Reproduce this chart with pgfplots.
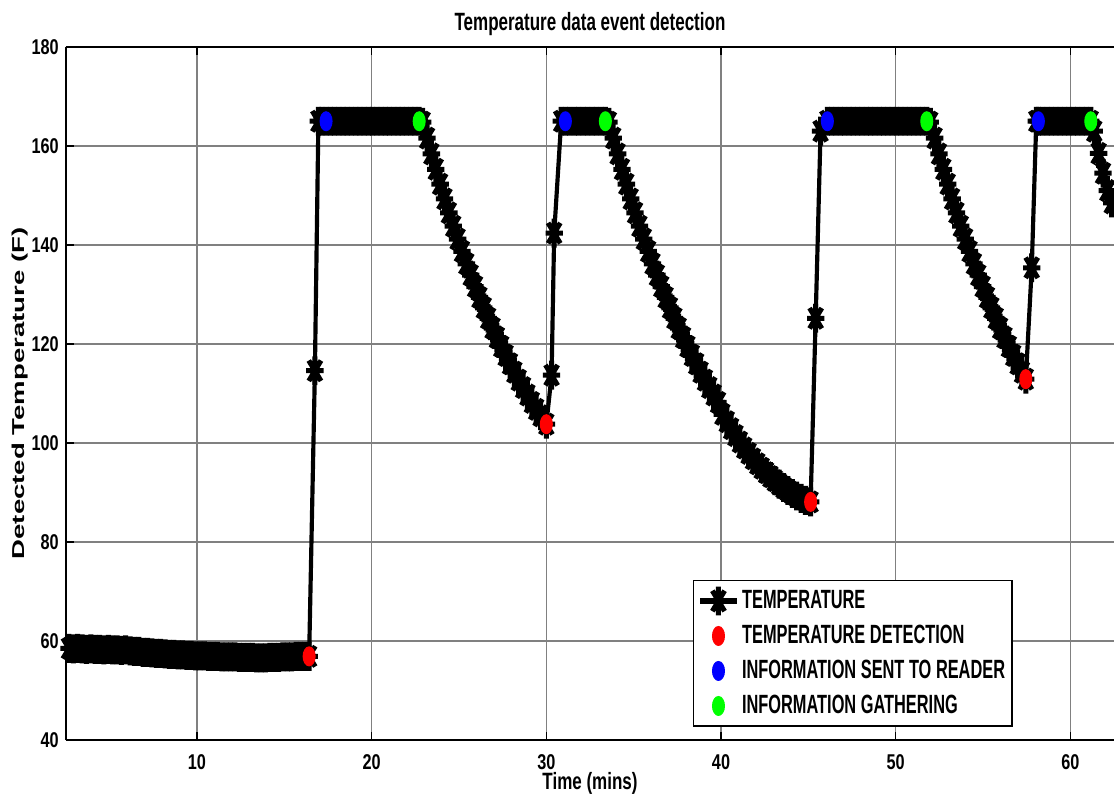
\documentclass[border=0pt]{standalone}
\usepackage{fontspec}
\usepackage{pgfplots}
\pgfplotsset{compat=1.18}

% narrow bold faces to match the squeezed MATLAB export
\newfontfamily\tickfont{Liberation Sans}[FakeStretch=0.76]
\newfontfamily\legfont{Liberation Sans}[FakeStretch=0.62]
\newfontfamily\titfont{Liberation Sans}[FakeStretch=0.68]
\newfontfamily\xlabfont{Liberation Sans}[FakeStretch=0.72]
\newfontfamily\ylabfont{Liberation Sans}[FakeStretch=1.6]

% MATLAB-like '*' marker (plus and cross)
\pgfdeclareplotmark{mstar}{%
  \pgfpathmoveto{\pgfqpoint{0pt}{\pgfplotmarksize}}%
  \pgfpathlineto{\pgfqpoint{0pt}{-\pgfplotmarksize}}%
  \pgfpathmoveto{\pgfqpoint{\pgfplotmarksize}{0pt}}%
  \pgfpathlineto{\pgfqpoint{-\pgfplotmarksize}{0pt}}%
  \pgfpathmoveto{\pgfqpoint{.707\pgfplotmarksize}{.707\pgfplotmarksize}}%
  \pgfpathlineto{\pgfqpoint{-.707\pgfplotmarksize}{-.707\pgfplotmarksize}}%
  \pgfpathmoveto{\pgfqpoint{.707\pgfplotmarksize}{-.707\pgfplotmarksize}}%
  \pgfpathlineto{\pgfqpoint{-.707\pgfplotmarksize}{.707\pgfplotmarksize}}%
  \pgfusepathqstroke}

\begin{document}
\begin{tikzpicture}
\useasboundingbox (-23.76pt,-23.04pt) rectangle (377.28pt,266.4pt);
\begin{axis}[
    at={(0,0)}, anchor=south west,
    scale only axis,
    width=377.28pt, height=249.48pt,
    xmin=2.5, xmax=62.5,
    ymin=40, ymax=180,
    xtick={10,20,...,60},
    ytick={40,60,...,180},
    axis x line*=box, axis y line*=left,
    axis line style={line width=0.55pt},
    tick align=inside,
    major tick length=3pt,
    tick style={black, line width=0.5pt},
    grid=major,
    grid style={black!50, line width=0.4pt},
    /pgf/number format/assume math mode=true,
    ticklabel style={font=\tickfont\bfseries\fontsize{7.7}{8}\selectfont},
    xticklabel style={yshift=-1.6pt},
    yticklabel style={xshift=0.9pt},
    title={Temperature data event detection},
    title style={font=\titfont\bfseries\fontsize{9}{10}\selectfont,
        at={(axis description cs:0.5,1)}, anchor=base, yshift=0.1pt},
    xlabel={Time (mins)},
    xlabel style={font=\xlabfont\bfseries\fontsize{8.5}{9}\selectfont,
        at={(axis description cs:0.5,0)}, anchor=base, yshift=-17.8pt},
    ylabel={Detected Temperature (F)},
    ylabel style={font=\ylabfont\bfseries\fontsize{6.2}{7}\selectfont,
        at={(axis description cs:-0.0392,0.5)}, anchor=base},
    legend style={
        at={(0.598,0.231)}, anchor=north west,
        draw=black, line width=0.55pt,
        font=\legfont\bfseries\fontsize{9.5}{10}\selectfont,
        inner xsep=1.5pt, inner ysep=1pt,
        row sep=0pt,
        nodes={inner xsep=1pt, inner ysep=2.15pt, text height=6.9pt, text depth=1.4pt},
        cells={anchor=west},
    },
]

% temperature samples
\addplot[black, line width=1.5pt, mark=mstar, mark size=5.2pt,
    mark options={xscale=0.6, line width=1.8pt},
    legend image code/.code={\draw[mark repeat=2,mark phase=2,line width=2pt]
        plot coordinates {(0pt,0pt)(6.5pt,0pt)(13pt,0pt)};}]
coordinates {
(2.42,58.6)(2.67,58.5)(2.92,58.4)(3.17,58.5)(3.42,58.4)(3.67,58.3)(3.92,58.4)(4.17,58.3)
(4.42,58.3)(4.67,58.2)(4.92,58.3)(5.17,58.2)(5.42,58.2)(5.67,58.1)(5.92,58.2)(6.17,58.0)
(6.42,57.9)(6.67,57.9)(6.92,57.7)(7.17,57.7)(7.42,57.6)(7.67,57.5)(7.92,57.5)(8.17,57.4)
(8.42,57.3)(8.67,57.3)(8.92,57.2)(9.17,57.2)(9.42,57.1)(9.67,57.1)(9.92,57.0)(10.17,57.0)
(10.42,57.0)(10.67,56.9)(10.92,56.9)(11.17,56.9)(11.42,56.8)(11.67,56.8)(11.92,56.8)(12.17,56.8)
(12.42,56.7)(12.67,56.7)(12.92,56.7)(13.17,56.7)(13.42,56.6)(13.67,56.6)(13.92,56.6)(14.17,56.7)
(14.42,56.7)(14.67,56.7)(14.92,56.8)(15.17,56.8)(15.42,56.8)(15.67,56.9)(15.92,56.9)(16.17,56.9)
(16.42,56.9)
(16.75,114.6)(16.95,165)(17.15,165)
(17.39,165)(17.63,165)(17.87,165)(18.12,165)(18.36,165)(18.60,165)(18.84,165)(19.09,165)
(19.33,165)(19.57,165)(19.81,165)(20.06,165)(20.30,165)(20.54,165)(20.78,165)(21.02,165)
(21.27,165)(21.51,165)(21.75,165)(21.99,165)(22.24,165)(22.48,165)(22.72,165)
(22.92,164.8)(23.17,161.6)(23.42,158.4)(23.67,155.3)(23.92,152.3)(24.17,149.3)(24.42,146.5)
(24.67,143.8)(24.92,141.2)(25.17,138.7)(25.42,136.2)(25.67,133.9)(25.92,131.6)(26.17,129.4)
(26.42,127.3)(26.67,125.2)(26.92,123.2)(27.17,121.3)(27.42,119.5)(27.67,117.7)(27.92,116.0)
(28.17,114.3)(28.42,112.7)(28.67,111.2)(28.92,109.7)(29.17,108.2)(29.42,106.8)(29.67,105.5)
(30.0,103.8)
(30.3,113.7)(30.45,142.4)(30.85,165)
(31.09,165)(31.34,165)(31.60,165)(31.85,165)(32.11,165)(32.36,165)(32.62,165)(32.87,165)
(33.13,165)(33.38,165)
(33.58,164.8)(33.83,161.6)(34.08,158.4)(34.33,155.3)(34.58,152.3)(34.83,149.3)(35.08,146.5)
(35.33,143.8)(35.58,141.2)(35.83,138.7)(36.08,136.2)(36.33,133.9)(36.58,131.6)(36.83,129.4)
(37.08,127.3)(37.33,125.2)(37.58,123.2)(37.83,121.3)(38.08,119.5)(38.33,117.7)(38.58,116.0)
(38.83,114.3)(39.08,112.7)(39.33,111.2)(39.58,109.7)(39.83,108.2)(40.08,105.8)(40.33,104.3)
(40.58,102.9)(40.83,101.5)(41.08,100.2)(41.33,99.0)(41.58,97.9)(41.83,96.8)(42.08,95.8)
(42.33,94.9)(42.58,94.0)(42.83,93.2)(43.08,92.4)(43.33,91.7)(43.58,91.0)(43.83,90.4)
(44.08,89.8)(44.33,89.3)(44.58,88.8)(44.83,88.4)(45.13,88.1)
(45.42,125.2)(45.70,163)
(46.09,165)(46.34,165)(46.58,165)(46.83,165)(47.08,165)(47.33,165)(47.57,165)(47.82,165)
(48.07,165)(48.32,165)(48.56,165)(48.81,165)(49.06,165)(49.31,165)(49.55,165)(49.80,165)
(50.05,165)(50.30,165)(50.54,165)(50.79,165)(51.04,165)(51.29,165)(51.53,165)(51.78,165)
(51.98,164.8)(52.23,161.6)(52.48,158.4)(52.73,155.3)(52.98,152.3)(53.23,149.3)(53.48,146.5)
(53.73,143.8)(53.98,141.2)(54.23,138.7)(54.48,136.2)(54.73,133.9)(54.98,131.6)(55.23,129.4)
(55.48,127.3)(55.73,125.2)(55.98,123.2)(56.23,121.3)(56.48,119.5)(56.73,117.7)(56.98,116.0)
(57.23,114.3)(57.45,112.9)
(57.79,135.4)(58.05,165)
(58.17,165)(58.42,165)(58.67,165)(58.92,165)(59.17,165)(59.42,165)(59.67,165)(59.92,165)
(60.17,165)(60.42,165)(60.67,165)(60.92,165)(61.17,165)
(61.37,163)(61.62,158.5)(61.87,154.5)(62.12,151)(62.37,148.5)(62.62,146)
};
\addlegendentry{TEMPERATURE}

\addplot[only marks, mark=*, mark size=3.4pt, color=red,
    mark options={xscale=0.63, fill=red, line width=0.4pt},
    legend image code/.code={\path[draw=none] (0pt,0pt) (13pt,0pt); \draw plot coordinates {(6.5pt,0pt)};}]
coordinates {(16.42,56.9)(30.0,103.8)(45.13,88.1)(57.45,112.9)};
\addlegendentry{TEMPERATURE DETECTION}

\addplot[only marks, mark=*, mark size=3.4pt, color=blue,
    mark options={xscale=0.63, fill=blue, line width=0.4pt},
    legend image code/.code={\path[draw=none] (0pt,0pt) (13pt,0pt); \draw plot coordinates {(6.5pt,0pt)};}]
coordinates {(17.39,165)(31.09,165)(46.09,165)(58.17,165)};
\addlegendentry{INFORMATION SENT TO READER}

\addplot[only marks, mark=*, mark size=3.4pt, color=green,
    mark options={xscale=0.63, fill=green, line width=0.4pt},
    legend image code/.code={\path[draw=none] (0pt,0pt) (13pt,0pt); \draw plot coordinates {(6.5pt,0pt)};}]
coordinates {(22.72,165)(33.38,165)(51.78,165)(61.17,165)};
\addlegendentry{INFORMATION GATHERING}

\end{axis}
\end{tikzpicture}
\end{document}
